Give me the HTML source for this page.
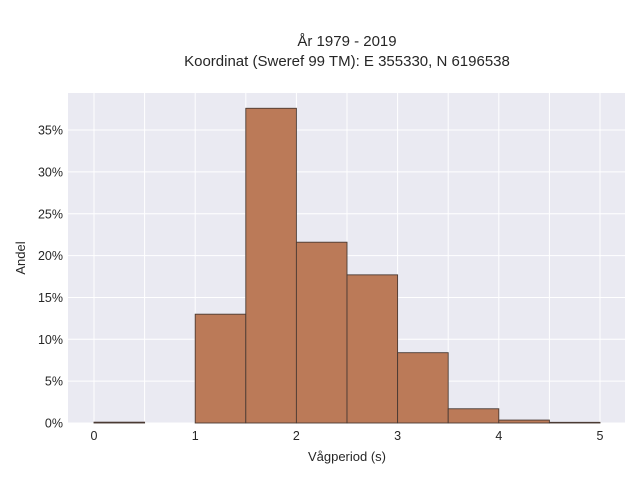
<!DOCTYPE html>
<html><head><meta charset="utf-8"><style>
body{margin:0;background:#fff;}
svg{display:block;font-family:"Liberation Sans",sans-serif;}
</style></head><body>
<svg id="c" width="640" height="480">
<rect x="68" y="93" width="557" height="330" fill="#eaeaf2"/>
<g id="grid"></g><g id="bars"></g><g id="ticks"></g>
<text x="347" y="46" text-anchor="middle" font-size="15" fill="#262626">År 1979 - 2019</text>
<text x="347" y="66" text-anchor="middle" font-size="15" fill="#262626">Koordinat (Sweref 99 TM): E 355330, N 6196538</text>
<text x="347" y="461" text-anchor="middle" font-size="13" fill="#262626">Vågperiod (s)</text>
<text x="25" y="258" text-anchor="middle" font-size="13" fill="#262626" transform="rotate(-90 25 258)">Andel</text>
</svg>
<script>
const binStarts=[0,0.5,1,1.5,2,2.5,3,3.5,4,4.5];
const binWidth=0.5;
const shares=[0.1,0,13.0,37.6,21.6,17.7,8.4,1.7,0.35,0.08];
const xTicks=[0,1,2,3,4,5];
const yTicks=[0,5,10,15,20,25,30,35];
const NS="http://www.w3.org/2000/svg";
const xS=v=>94+v*101.2, yS=v=>423-v*8.37;
const grid=document.getElementById('grid'),bars=document.getElementById('bars'),ticks=document.getElementById('ticks');
function mk(tag,a,p){const e=document.createElementNS(NS,tag);for(const k in a)e.setAttribute(k,a[k]);p.appendChild(e);return e;}
for(let v=0;v<=5;v+=0.5){const l=mk('line',{x1:xS(v),x2:xS(v),y1:93,y2:423,stroke:'#fff','stroke-width':1},grid);

}
yTicks.forEach(v=>{const l=mk('line',{x1:68,x2:625,y1:yS(v),y2:yS(v),stroke:'#fff','stroke-width':1},grid);


const t=mk('text',{x:63,y:yS(v)+4.5,'text-anchor':'end','font-size':12.5,fill:'#262626'},ticks);t.textContent=v+'%';

});
xTicks.forEach(v=>{const t=mk('text',{x:xS(v),y:440,'text-anchor':'middle','font-size':12.5,fill:'#262626'},ticks);t.textContent=v;

});
binStarts.forEach((s,i)=>{if(shares[i]<=0)return;const r=mk('rect',{x:xS(s),y:yS(shares[i]),width:xS(s+binWidth)-xS(s),height:yS(0)-yS(shares[i]),fill:'#bb7a58',stroke:'#4a3a33','stroke-width':0.9},bars);

});
</script>
</body></html>
